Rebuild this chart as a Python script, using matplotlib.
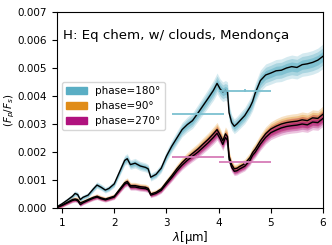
import matplotlib
matplotlib.use("Agg")
import matplotlib.pyplot as plt
import matplotlib.patches as mpatches
import numpy as np

# wavelength grid (micron)
wl = [0.9, 1.0, 1.1, 1.2, 1.25, 1.3, 1.35, 1.4, 1.5, 1.6, 1.67, 1.75, 1.83, 1.9,
      2.0, 2.1, 2.2, 2.25, 2.31, 2.4, 2.5, 2.6, 2.65, 2.7, 2.8, 2.9, 3.0, 3.1,
      3.2, 3.3, 3.4, 3.5, 3.6, 3.7, 3.8, 3.9, 3.97, 4.03, 4.08, 4.13, 4.17, 4.2,
      4.25, 4.3, 4.35, 4.4, 4.5, 4.6, 4.65, 4.7, 4.8, 4.9, 5.0, 5.1, 5.2, 5.3,
      5.4, 5.5, 5.6, 5.7, 5.8, 5.9, 6.0]

# Fp/Fs in units of 1e-3
fp_180 = [0.04, 0.15, 0.28, 0.42, 0.52, 0.48, 0.30, 0.38, 0.46, 0.68, 0.82, 0.74, 0.64, 0.70,
          0.86, 1.28, 1.70, 1.76, 1.55, 1.60, 1.50, 1.45, 1.40, 1.10, 1.20, 1.42, 1.85, 2.20,
          2.50, 2.80, 2.98, 3.12, 3.38, 3.65, 3.92, 4.20, 4.45, 4.25, 4.15, 4.20, 4.15, 3.40,
          3.05, 2.92, 3.00, 3.10, 3.30, 3.60, 3.80, 4.10, 4.55, 4.75, 4.82, 4.90, 4.92, 5.00,
          5.05, 5.02, 5.12, 5.15, 5.20, 5.28, 5.42]

fp_90 = [0.02, 0.10, 0.20, 0.30, 0.32, 0.30, 0.18, 0.22, 0.30, 0.38, 0.42, 0.36, 0.32, 0.36,
         0.42, 0.66, 0.90, 0.95, 0.80, 0.80, 0.76, 0.74, 0.70, 0.50, 0.56, 0.68, 0.92, 1.15,
         1.40, 1.62, 1.80, 1.95, 2.10, 2.28, 2.45, 2.65, 2.80, 2.60, 2.40, 2.65, 2.55, 1.85,
         1.55, 1.40, 1.42, 1.48, 1.58, 1.80, 1.98, 2.10, 2.40, 2.65, 2.82, 2.92, 3.00, 3.05,
         3.08, 3.10, 3.15, 3.12, 3.22, 3.20, 3.35]

fp_270 = [0.02, 0.09, 0.18, 0.27, 0.29, 0.26, 0.12, 0.18, 0.27, 0.35, 0.39, 0.33, 0.29, 0.33,
          0.39, 0.62, 0.85, 0.90, 0.75, 0.75, 0.71, 0.69, 0.65, 0.46, 0.52, 0.63, 0.86, 1.08,
          1.32, 1.53, 1.70, 1.85, 1.99, 2.16, 2.33, 2.52, 2.67, 2.47, 2.27, 2.52, 2.42, 1.74,
          1.45, 1.31, 1.33, 1.39, 1.49, 1.70, 1.88, 1.99, 2.28, 2.52, 2.69, 2.78, 2.86, 2.91,
          2.94, 2.96, 3.00, 2.97, 3.07, 3.05, 3.20]

rel_err = 0.035   # relative spread of the model envelope
abs_err = 0.03    # floor, 1e-3

# binned photometry points (Spitzer-like bands)
band_wl = [3.6, 4.5]
band_hw = [0.5, 0.5]
obs_180 = [3.36, 4.19]
obs_270 = [1.83, 1.63]

colors = {"180": "#5aaec4", "90": "#e08c18", "270": "#b0127e"}

fig = plt.figure(figsize=(3.32, 2.45), dpi=100)
ax = fig.add_axes([0.171, 0.151, 0.802, 0.80])

def draw(y, c):
    y = np.array(y) * 1e-3
    e = np.abs(y) * rel_err + abs_err * 1e-3
    for k, a in zip([2.0, 1.4, 0.8], [0.25, 0.35, 0.5]):
        ax.fill_between(wl, y - k * e, y + k * e, color=c, alpha=a, lw=0)
    ax.plot(wl, y, color="k", lw=1.0)

draw(fp_180, colors["180"])
draw(fp_90, colors["90"])
draw(fp_270, colors["270"])

ax.errorbar(band_wl, np.array(obs_180) * 1e-3, xerr=band_hw, yerr=0.00005,
            fmt="none", ecolor="#7cc0d0", elinewidth=1.3)
ax.errorbar(band_wl, np.array(obs_270) * 1e-3, xerr=band_hw, yerr=0.00005,
            fmt="none", ecolor="#d77cb8", elinewidth=1.3)

ax.text(0.022, 0.88, "H: Eq chem, w/ clouds, Mendonça", transform=ax.transAxes,
        fontsize=9.6, va="center", ha="left")

handles = [mpatches.Patch(color=colors["180"], label="phase=180°"),
           mpatches.Patch(color=colors["90"], label="phase=90°"),
           mpatches.Patch(color=colors["270"], label="phase=270°")]
ax.legend(handles=handles, loc="center left", bbox_to_anchor=(0.0, 0.52),
          fontsize=7.5)

ax.set_xlim(0.9, 6)
ax.set_ylim(0, 0.007)
ax.set_xticks([1, 2, 3, 4, 5, 6])
ax.set_yticks(np.arange(0, 0.0071, 0.001))
ax.yaxis.set_major_formatter(matplotlib.ticker.FormatStrFormatter("%.3f"))
ax.tick_params(labelsize=7.5)
ax.set_xlabel(r"$\lambda$[μm]", fontsize=8.5, labelpad=1)
ax.set_ylabel(r"$(F_p/F_s)$", fontsize=7.5)
ax.yaxis.set_label_coords(-0.15, 0.5)

fig.savefig("out.png", dpi=100)
